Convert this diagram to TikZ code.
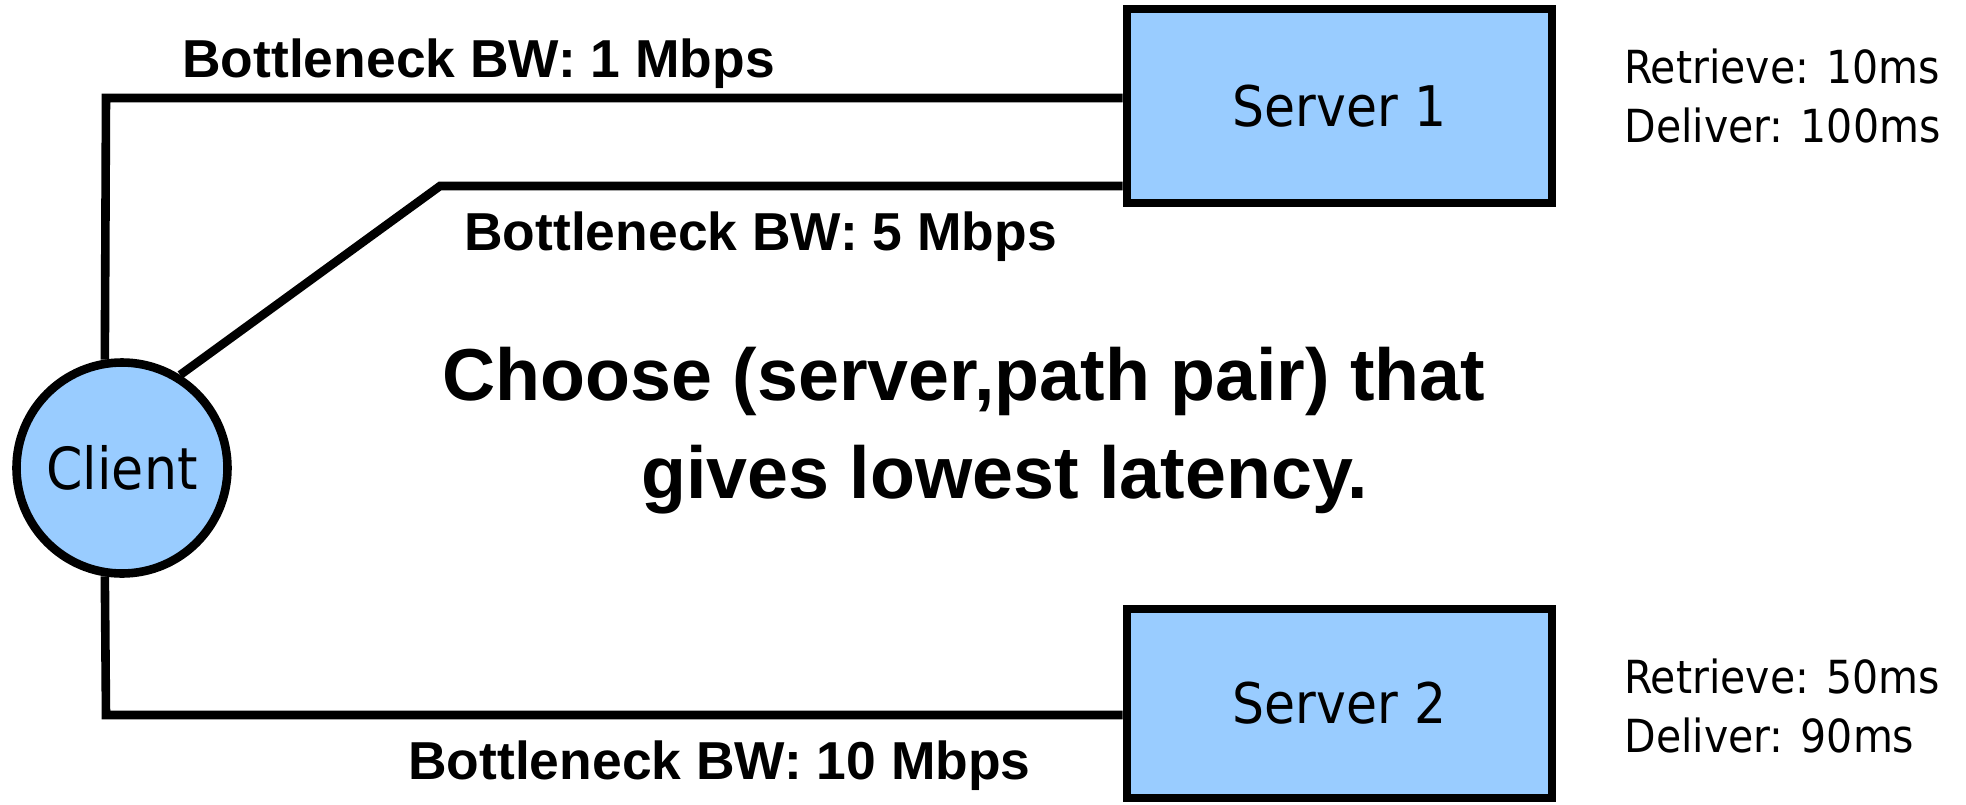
\documentclass[tikz,border=0pt]{standalone}
\usepackage{fontspec}
\setmainfont{Liberation Sans}
\newfontfamily\humfont{DejaVu Sans Condensed}
\usetikzlibrary{backgrounds}
\definecolor{boxblue}{RGB}{153,204,255}
\begin{document}
\begin{tikzpicture}[x=0.5pt,y=-0.5pt,
  link/.style={line width=4.3pt, line join=miter},
  serverbox/.style={draw, line width=4.3pt, fill=boxblue, minimum width=212.5pt, inner sep=0pt,
    font=\humfont\fontsize{28}{30}\selectfont},
  clientnode/.style={circle, draw, line width=4.3pt, fill=boxblue, minimum size=105.5pt, inner sep=0pt,
    font=\humfont\fontsize{29}{30}\selectfont},
  bwlabel/.style={anchor=base west, inner sep=0pt, font=\bfseries\fontsize{26.7}{30}\selectfont},
  bigtext/.style={anchor=base west, inner sep=0pt, font=\bfseries\fontsize{36.8}{40}\selectfont},
  timing/.style={anchor=base west, inner sep=0pt, font=\humfont\fontsize{22.8}{26}\selectfont}
]
\useasboundingbox (0,0) rectangle (1966,804);

\node[clientnode] (client) at (122,468) {Client};
\node[serverbox, minimum height=97pt] (s1) at (1339.5,106) {Server 1};
\node[serverbox, minimum height=94.5pt] (s2) at (1339.5,703.5) {Server 2};

\coordinate (j1) at (106,98);
\coordinate (j2) at (440,186);
\coordinate (j3) at (106,715);

\begin{scope}[on background layer]
\draw[link] (client.99) -- (j1) -- (j1 -| s1.west);
\draw[link] (client.58) -- (j2) -- (j2 -| s1.west);
\draw[link] (client.261) -- (j3) -- (j3 -| s2.west);
\end{scope}

\node[bwlabel] (l1) at (182,77) {Bottleneck BW: 1 Mbps};
\node[bwlabel] (l2) at (464,250) {Bottleneck BW: 5 Mbps};
\node[bwlabel] (l3) at (408,779) {Bottleneck BW: 10 Mbps};

\node[bigtext] (q1) at (442,400) {Choose (server,path pair) that};
\node[bigtext] (q2) at (641,498) {gives lowest latency.};

\node[timing] (r1) at (1624,83) {Retrieve: 10ms};
\node[timing] (d1) at (1624,142) {Deliver: 100ms};
\node[timing] (r2) at (1624,693) {Retrieve: 50ms};
\node[timing] (d2) at (1624,752) {Deliver: 90ms};
\end{tikzpicture}
\end{document}
